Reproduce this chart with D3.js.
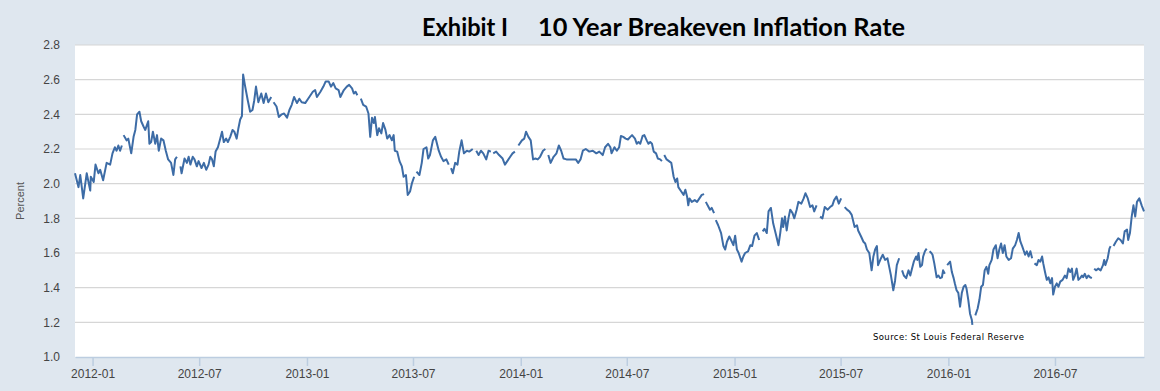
<!DOCTYPE html>
<html>
<head>
<meta charset="utf-8">
<script src="https://cdn.jsdelivr.net/npm/d3@7"></script>
<style>
    html, body { margin: 0; padding: 0; background: #dfe7ef; }
    svg { display: block; }
</style>
</head>
<body>
<div id="chart"></div>
<script>
const dates = [
    "2011-12-02","2011-12-08","2011-12-11","2011-12-16","2011-12-22","2011-12-28","2011-12-29",
    "2012-01-03","2012-01-06","2012-01-11","2012-01-14","2012-01-19","2012-01-25","2012-01-31",
    "2012-02-04","2012-02-08","2012-02-11","2012-02-14","2012-02-17","2012-02-20","2012-02-22","2012-02-23","2012-02-28",
    "2012-03-02","2012-03-07","2012-03-11","2012-03-14","2012-03-17","2012-03-21","2012-03-24","2012-03-28","2012-03-31",
    "2012-04-05","2012-04-07","2012-04-10","2012-04-13","2012-04-17","2012-04-20","2012-04-23","2012-04-27",
    "2012-05-01","2012-05-05","2012-05-09","2012-05-14","2012-05-18","2012-05-21","2012-05-24","2012-05-27","2012-05-30",
    "2012-06-01","2012-06-06","2012-06-10","2012-06-13","2012-06-16","2012-06-20","2012-06-23","2012-06-27","2012-06-30",
    "2012-07-05","2012-07-09","2012-07-13","2012-07-17","2012-07-20","2012-07-23","2012-07-26","2012-07-29",
    "2012-08-02","2012-08-06","2012-08-09","2012-08-12","2012-08-16","2012-08-19","2012-08-23","2012-08-27","2012-08-30",
    "2012-09-03","2012-09-06","2012-09-09","2012-09-12","2012-09-14","2012-09-17","2012-09-22","2012-09-26","2012-09-30",
    "2012-10-03","2012-10-06","2012-10-10","2012-10-15","2012-10-19","2012-10-23","2012-10-27",
    "2012-11-01","2012-11-03","2012-11-05","2012-11-10","2012-11-14","2012-11-19","2012-11-23","2012-11-28",
    "2012-12-02","2012-12-06","2012-12-10","2012-12-15","2012-12-19","2012-12-23","2012-12-29",
    "2013-01-03","2013-01-07","2013-01-11","2013-01-15","2013-01-18","2013-01-24","2013-01-29",
    "2013-02-02","2013-02-07","2013-02-11","2013-02-15","2013-02-19","2013-02-24","2013-02-27",
    "2013-03-05","2013-03-10","2013-03-14","2013-03-19","2013-03-22","2013-03-25","2013-03-28","2013-03-30",
    "2013-04-03","2013-04-07","2013-04-12","2013-04-16","2013-04-19","2013-04-22","2013-04-25","2013-04-27",
    "2013-05-01","2013-05-04","2013-05-08","2013-05-11","2013-05-15","2013-05-18","2013-05-22","2013-05-26","2013-05-29","2013-05-31",
    "2013-06-04","2013-06-08","2013-06-12","2013-06-15","2013-06-19","2013-06-22","2013-06-26","2013-06-29",
    "2013-07-03","2013-07-04","2013-07-07","2013-07-12","2013-07-16","2013-07-19","2013-07-24","2013-07-27","2013-07-30",
    "2013-08-04","2013-08-08","2013-08-11","2013-08-14","2013-08-18","2013-08-22","2013-08-27","2013-08-31",
    "2013-09-02","2013-09-04","2013-09-07","2013-09-11","2013-09-15","2013-09-18","2013-09-22","2013-09-26",
    "2013-10-01","2013-10-05","2013-10-11","2013-10-14","2013-10-17","2013-10-21","2013-10-25","2013-10-29",
    "2013-11-03","2013-11-07","2013-11-11","2013-11-13","2013-11-15","2013-11-20","2013-11-25",
    "2013-12-01","2013-12-05","2013-12-09","2013-12-14","2013-12-18","2013-12-22","2013-12-25","2013-12-28",
    "2014-01-03","2014-01-07","2014-01-10","2014-01-14","2014-01-18","2014-01-22","2014-01-26","2014-01-30",
    "2014-02-03","2014-02-08","2014-02-12","2014-02-15","2014-02-17","2014-02-21","2014-02-26",
    "2014-03-03","2014-03-07","2014-03-11","2014-03-15","2014-03-20","2014-03-25","2014-03-31",
    "2014-04-05","2014-04-09","2014-04-13","2014-04-17","2014-04-22","2014-04-28",
    "2014-05-04","2014-05-10","2014-05-15","2014-05-21","2014-05-25","2014-05-30",
    "2014-06-03","2014-06-05","2014-06-10","2014-06-14","2014-06-18","2014-06-21","2014-06-25","2014-06-29",
    "2014-07-03","2014-07-07","2014-07-10","2014-07-15","2014-07-18","2014-07-21","2014-07-24","2014-07-28","2014-07-31",
    "2014-08-04","2014-08-07","2014-08-10","2014-08-13","2014-08-16","2014-08-20","2014-08-23","2014-08-27","2014-08-30",
    "2014-09-01","2014-09-03","2014-09-07","2014-09-11","2014-09-15","2014-09-19","2014-09-22","2014-09-25","2014-09-27",
    "2014-10-02","2014-10-06","2014-10-09","2014-10-12","2014-10-14","2014-10-16","2014-10-20","2014-10-25","2014-10-29",
    "2014-11-02","2014-11-06","2014-11-10","2014-11-11","2014-11-13","2014-11-16","2014-11-20","2014-11-23","2014-11-27","2014-11-28","2014-11-30",
    "2014-12-04","2014-12-09","2014-12-13","2014-12-16","2014-12-19","2014-12-23","2014-12-26","2014-12-30",
    "2015-01-02","2015-01-05","2015-01-08","2015-01-10","2015-01-13","2015-01-16","2015-01-19","2015-01-24","2015-01-28","2015-01-31",
    "2015-02-04","2015-02-08","2015-02-12","2015-02-15","2015-02-18","2015-02-21","2015-02-25","2015-02-28",
    "2015-03-04","2015-03-08","2015-03-12","2015-03-17","2015-03-20","2015-03-23","2015-03-25","2015-03-28","2015-03-31",
    "2015-04-03","2015-04-06","2015-04-10","2015-04-13","2015-04-17","2015-04-20","2015-04-25","2015-04-29",
    "2015-05-02","2015-05-06","2015-05-10","2015-05-14","2015-05-17","2015-05-21","2015-05-25","2015-05-27","2015-05-31",
    "2015-06-04","2015-06-09","2015-06-13","2015-06-17","2015-06-20","2015-06-24","2015-06-28",
    "2015-07-02","2015-07-03","2015-07-08","2015-07-12","2015-07-16","2015-07-20","2015-07-25","2015-07-29","2015-07-31",
    "2015-08-05","2015-08-09","2015-08-12","2015-08-15","2015-08-19","2015-08-23","2015-08-26","2015-08-29",
    "2015-09-01","2015-09-03","2015-09-08","2015-09-11","2015-09-15","2015-09-19","2015-09-22","2015-09-25","2015-09-29",
    "2015-10-02","2015-10-05","2015-10-09","2015-10-12","2015-10-14","2015-10-17","2015-10-21","2015-10-25","2015-10-28","2015-10-31",
    "2015-11-03","2015-11-07","2015-11-09","2015-11-11","2015-11-14","2015-11-17","2015-11-19","2015-11-22","2015-11-25","2015-11-26","2015-11-30",
    "2015-12-03","2015-12-05","2015-12-08","2015-12-12","2015-12-15","2015-12-18","2015-12-21","2015-12-23","2015-12-26","2015-12-28","2015-12-30",
    "2016-01-04","2016-01-07","2016-01-10","2016-01-12","2016-01-15","2016-01-18","2016-01-21","2016-01-24","2016-01-27","2016-01-30",
    "2016-02-01","2016-02-04","2016-02-07","2016-02-10","2016-02-11","2016-02-13","2016-02-16","2016-02-20","2016-02-23","2016-02-26","2016-02-29",
    "2016-03-03","2016-03-06","2016-03-09","2016-03-11","2016-03-15","2016-03-18","2016-03-22","2016-03-25","2016-03-28","2016-03-31",
    "2016-04-03","2016-04-06","2016-04-09","2016-04-13","2016-04-17","2016-04-20","2016-04-24","2016-04-27","2016-04-30",
    "2016-05-03","2016-05-06","2016-05-09","2016-05-11","2016-05-14","2016-05-17","2016-05-20","2016-05-23","2016-05-25","2016-05-27","2016-05-31",
    "2016-06-03","2016-06-06","2016-06-09","2016-06-11","2016-06-14","2016-06-17","2016-06-20","2016-06-23","2016-06-26","2016-06-28",
    "2016-07-01","2016-07-04","2016-07-07","2016-07-10","2016-07-14","2016-07-18","2016-07-21","2016-07-24","2016-07-27","2016-07-30",
    "2016-08-01","2016-08-04","2016-08-07","2016-08-10","2016-08-13","2016-08-16","2016-08-18","2016-08-21","2016-08-24","2016-08-27","2016-08-30",
    "2016-09-02","2016-09-04","2016-09-06","2016-09-09","2016-09-13","2016-09-17","2016-09-21","2016-09-23","2016-09-25","2016-09-29",
    "2016-10-02","2016-10-04","2016-10-06","2016-10-09","2016-10-13","2016-10-17","2016-10-21","2016-10-25","2016-10-28",
    "2016-11-01","2016-11-03","2016-11-06","2016-11-09","2016-11-12","2016-11-15","2016-11-18","2016-11-22","2016-11-26","2016-11-30"
];

// percent, null = no quote that day (gap in the line)
const rates = [
    2.06,1.98,2.05,1.915,2.06,1.96,2.04,
    2.01,2.11,2.06,2.08,2.02,2.12,2.11,
    2.175,2.21,2.19,2.22,2.19,2.22,null,2.28,2.25,
    2.26,2.175,2.27,2.31,2.40,2.415,2.36,2.33,2.31,
    2.36,2.23,2.24,2.30,2.23,2.28,2.19,2.26,
    2.25,2.19,2.14,2.12,2.05,2.14,2.155,null,2.10,
    2.06,2.145,2.12,2.155,2.11,2.155,2.14,2.10,2.13,
    2.09,2.12,2.08,2.11,2.155,2.14,2.10,2.185,
    2.21,2.26,2.30,2.24,2.26,2.24,2.27,2.31,2.30,
    2.26,2.32,2.37,2.39,2.63,2.57,2.48,2.415,2.425,
    2.48,2.56,2.47,2.52,2.465,2.52,2.47,
    2.50,null,2.47,2.445,2.385,2.40,2.405,2.38,
    2.425,2.455,2.50,2.465,2.49,2.47,2.465,
    2.49,2.51,2.53,2.54,2.50,2.53,2.56,
    2.59,2.59,2.56,2.58,2.55,2.54,2.50,
    2.54,2.56,2.57,2.55,2.52,2.53,2.51,null,
    2.49,2.455,2.445,2.405,2.27,2.38,2.35,2.385,
    2.28,2.32,2.29,2.35,2.31,2.26,2.28,2.25,2.28,2.19,
    2.185,2.13,2.10,2.04,2.05,1.935,1.955,2.00,
    2.04,null,2.07,2.05,2.12,2.20,2.21,2.145,2.165,
    2.25,2.27,2.23,2.19,2.155,2.13,2.14,2.11,
    null,2.09,2.06,2.12,2.11,2.185,2.25,2.175,
    2.19,2.185,2.20,null,2.19,2.165,2.19,2.175,
    2.14,2.19,2.185,null,2.175,2.185,2.165,
    2.145,2.11,2.13,2.155,2.175,2.185,null,2.22,
    2.25,2.26,2.30,2.27,2.25,2.14,2.145,2.14,
    2.155,2.19,2.20,null,2.165,2.12,2.155,
    2.175,2.22,2.19,2.145,2.14,2.14,2.14,
    2.14,2.12,2.14,2.19,2.20,2.185,
    2.19,2.175,2.185,2.165,2.21,2.23,
    2.21,2.175,2.21,2.19,2.21,2.275,2.27,2.26,
    2.255,2.27,2.28,2.26,2.23,2.24,2.23,2.275,2.28,
    2.25,2.23,2.24,2.23,2.185,2.175,2.145,2.14,2.13,
    null,2.165,2.14,2.13,2.12,2.04,2.01,2.03,1.98,
    1.955,1.935,1.965,1.925,1.875,1.915,1.895,1.905,1.895,
    1.915,1.935,1.94,null,1.895,1.875,1.85,1.86,1.83,null,1.79,
    1.76,1.715,1.64,1.62,1.665,1.695,1.675,1.645,
    1.70,1.62,1.60,1.58,1.55,1.58,1.60,1.61,1.645,1.64,
    1.70,1.715,1.675,null,1.725,1.74,1.715,1.84,
    1.86,1.77,1.715,1.645,1.715,1.80,1.75,1.81,1.73,
    1.80,1.85,1.83,1.80,1.85,1.895,1.885,1.915,
    1.945,1.915,1.865,1.875,1.84,1.875,null,1.81,1.80,
    1.865,1.85,1.865,1.875,1.905,1.925,1.885,
    1.915,null,1.865,1.85,1.84,1.82,1.75,1.76,1.73,
    1.695,1.665,1.655,1.62,1.60,1.50,1.58,1.62,
    1.64,1.53,1.57,1.59,1.56,1.57,1.52,1.47,1.385,
    1.44,1.53,1.57,null,1.50,1.47,1.455,1.50,1.47,1.51,
    1.55,1.58,1.56,1.60,1.52,1.53,1.58,1.61,1.625,null,1.61,
    1.60,1.59,1.54,1.46,1.47,1.455,1.46,1.50,1.48,null,1.53,
    1.55,1.49,1.455,1.425,1.385,1.37,1.29,1.37,1.405,1.415,
    1.395,1.33,1.25,1.215,1.185,null,1.24,1.28,1.33,1.405,1.415,
    1.50,1.52,1.48,1.53,1.56,1.62,1.645,1.57,1.62,1.655,
    1.60,1.645,1.58,1.56,1.57,1.625,1.645,1.675,1.715,
    1.665,1.64,1.61,1.59,1.61,1.58,1.61,1.57,null,1.54,1.53,
    1.56,1.55,1.58,1.54,1.49,1.445,1.46,1.425,1.455,1.36,
    1.405,1.425,1.405,1.435,1.445,1.47,1.455,1.51,1.49,1.51,
    1.445,1.47,1.51,1.445,1.455,1.47,1.46,1.48,1.455,1.47,1.46,
    1.455,null,1.51,1.50,1.51,1.50,1.53,1.56,1.53,1.57,
    1.625,1.64,null,1.64,1.665,1.685,1.675,1.655,1.725,
    1.735,1.675,1.715,1.81,1.875,1.81,1.895,1.915,1.875,1.84
];

// axis content
const xDomain = ["2011-12-02", "2016-11-30"];
const yDomain = [1.0, 2.8];
const yTicks = [1.0, 1.2, 1.4, 1.6, 1.8, 2.0, 2.2, 2.4, 2.6, 2.8];
const titleLeft = "Exhibit I";
const titleRight = "10 Year Breakeven Inflation Rate";
const yLabel = "Percent";
const sourceNote = "Source: St Louis Federal Reserve";

// formatting constants
const totalWidth = 1160;
const totalHeight = 391;
const margin = {top: 45, bottom: 34, left: 75, right: 16};
const width = totalWidth - margin.left - margin.right;
const height = totalHeight - margin.top - margin.bottom;
const lineColor = "#3d6ca6";
const axisFont = "'Liberation Sans', Arial, sans-serif";

const parseDate = d3.timeParse("%Y-%m-%d");
const series = dates.map((it, i) => ({date: parseDate(it), value: rates[i]}));

// append svg to body
const root = d3.select("#chart")
    .append("svg")
        .attr("width", totalWidth)
        .attr("height", totalHeight);

root.append("rect")
    .attr("width", totalWidth)
    .attr("height", totalHeight)
    .attr("fill", "#dfe7ef");

const svg = root.append("g")
    .attr("transform", `translate(${margin.left}, ${margin.top})`);

// plot background
svg.append("rect")
    .attr("width", width)
    .attr("height", height)
    .attr("fill", "#ffffff");

// X-axis content
const x = d3.scaleTime()
    .domain(xDomain.map(parseDate))
    .range([0, width]);

// Y-axis content
const y = d3.scaleLinear()
    .domain(yDomain)
    .range([height, 0]);

// grid lines
svg.append("g")
    .selectAll("line")
    .data(yTicks.slice(1))
    .join("line")
        .attr("x1", 0)
        .attr("x2", width)
        .attr("y1", it => y(it))
        .attr("y2", it => y(it))
        .attr("stroke", "#d6d6d6")
        .attr("stroke-width", 1.2);

// draw Y-axis
const yAxis = svg.append("g")
    .call(d3.axisLeft(y).tickValues(yTicks).tickFormat(d3.format(".1f")).tickSize(0).tickPadding(15));
yAxis.select(".domain").remove();
yAxis.selectAll("text")
    .attr("fill", "#444")
    .attr("font-family", axisFont)
    .attr("font-size", 12);

// draw X-axis
const xAxis = svg.append("g")
    .attr("transform", `translate(0, ${height})`)
    .call(d3.axisBottom(x)
        .ticks(d3.timeMonth.every(6))
        .tickFormat(d3.timeFormat("%Y-%m"))
        .tickSizeInner(9)
        .tickSizeOuter(0)
        .tickPadding(3));
xAxis.select(".domain")
    .attr("stroke", "#bccde0")
    .attr("stroke-width", 1.5);
xAxis.selectAll(".tick line")
    .attr("stroke", "#bccde0")
    .attr("stroke-width", 1.5);
xAxis.selectAll("text")
    .attr("fill", "#444")
    .attr("font-family", axisFont)
    .attr("font-size", 12);

// draw the line
const line = d3.line()
    .defined(it => it.value != null)
    .x(it => x(it.date))
    .y(it => y(it.value));

svg.append("path")
    .datum(series)
    .attr("d", line)
    .attr("fill", "none")
    .attr("stroke", lineColor)
    .attr("stroke-width", 2)
    .attr("stroke-linejoin", "round");

// title
root.append("text")
    .attr("x", 422)
    .attr("y", 36)
    .attr("font-family", "Lato, sans-serif")
    .attr("font-weight", "bold")
    .attr("font-size", 24)
    .attr("textLength", 86)
    .attr("lengthAdjust", "spacingAndGlyphs")
    .attr("fill", "#000")
    .text(titleLeft);

root.append("text")
    .attr("x", 538)
    .attr("y", 36)
    .attr("font-family", "Lato, sans-serif")
    .attr("font-weight", "bold")
    .attr("font-size", 24)
    .attr("textLength", 367)
    .attr("lengthAdjust", "spacingAndGlyphs")
    .attr("fill", "#000")
    .text(titleRight);

// Y-axis label
root.append("text")
    .attr("transform", "translate(24, 201) rotate(-90)")
    .attr("text-anchor", "middle")
    .attr("font-family", axisFont)
    .attr("font-size", 11)
    .attr("fill", "#555")
    .text(yLabel);

// source note
root.append("text")
    .attr("x", 873)
    .attr("y", 340)
    .attr("font-family", "'DejaVu Sans', sans-serif")
    .attr("font-size", 8.5)
    .attr("textLength", 151)
    .attr("lengthAdjust", "spacing")
    .attr("fill", "#000")
    .text(sourceNote);
</script>
</body>
</html>
